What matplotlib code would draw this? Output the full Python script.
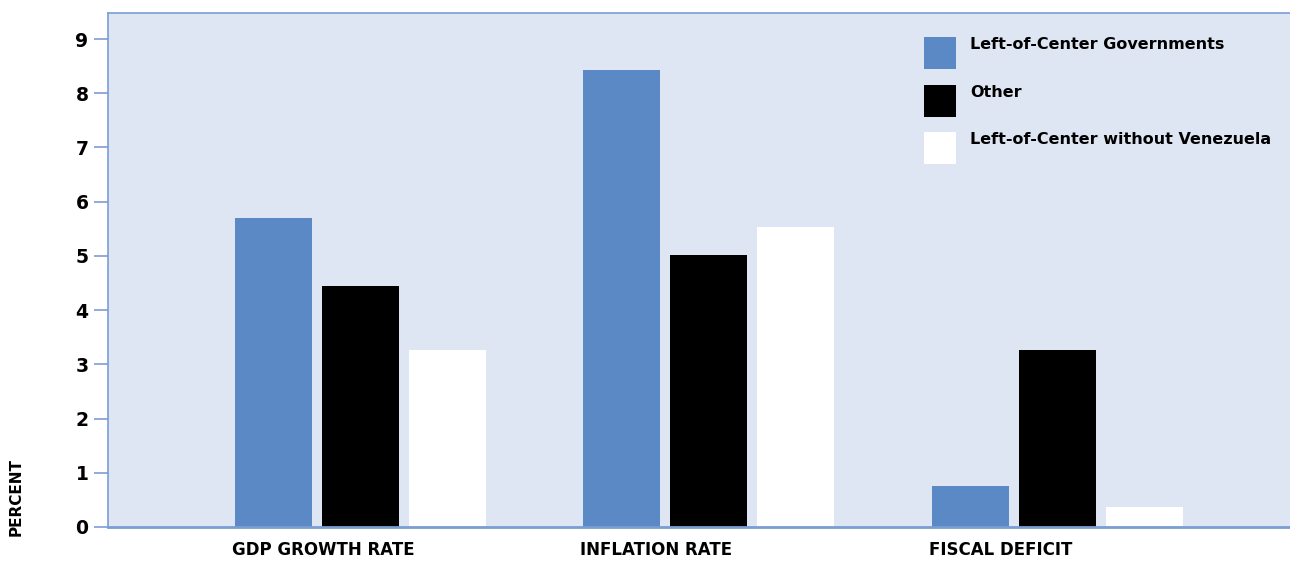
import matplotlib
matplotlib.use("Agg")
import matplotlib.pyplot as plt
import numpy as np
from matplotlib.patches import Rectangle

categories = ["GDP GROWTH RATE", "INFLATION RATE", "FISCAL DEFICIT"]
series_names = ["Left-of-Center Governments", "Other", "Left-of-Center without Venezuela"]
left_of_center = [5.7, 8.43, 0.76]
other = [4.44, 5.02, 3.26]
left_no_venezuela = [3.26, 5.53, 0.37]
yticks = [0, 1, 2, 3, 4, 5, 6, 7, 8, 9]

blue = "#5b89c6"
edge = "#7a9dd4"
bg = "#dfe6f3"

plt.rcParams['font.family'] = ['DejaVu Sans']

W, H = 1290, 571
AX_L, AX_R, AX_T, AX_B = 108, 1290, 13, 527
fig = plt.figure(figsize=(W/100, H/100), dpi=100)
ax = fig.add_axes([AX_L/W, 1-AX_B/H, (AX_R-AX_L)/W, (AX_B-AX_T)/H])
ax.set_facecolor(bg)

def ax_frac(px, py):
    return (px-AX_L)/(AX_R-AX_L), (AX_B-py)/(AX_B-AX_T)

x = np.arange(len(categories))
w = 0.2208
step = 0.2495
colors = [blue, "black", "white"]
series = [left_of_center, other, left_no_venezuela]
for i, (vals, c, name) in enumerate(zip(series, colors, series_names)):
    ax.bar(x + (i - 1) * step, vals, width=w, color=c, label=name, zorder=2)

ax.set_xlim(-0.7227, 2.667)
ax.set_ylim(0, 9.48)
ax.set_yticks(yticks)
ax.set_yticklabels([str(t) for t in yticks], fontsize=13.5, fontweight='bold')
ax.tick_params(axis='y', length=10, width=1.2, color=edge, pad=4)
ax.set_xticks([])

for s in ["left", "top", "bottom"]:
    ax.spines[s].set_color(edge)
    ax.spines[s].set_linewidth(1.2)
ax.spines["right"].set_visible(False)
ax.spines["bottom"].set_linewidth(2)

for xi, cat in zip(x, categories):
    ax.text(xi - step - w/2 - 0.008, -0.26, cat, ha='left', va='top', fontsize=12,
            fontweight='bold', transform=ax.transData, clip_on=False)

fig.text(16/W, 1-497/H, "PERCENT", rotation=90, ha='center', va='center',
         fontsize=11, fontweight='bold')

# legend drawn as square swatches with labels aligned to their tops
sw_tops = [37, 85, 132]
for c, name, top in zip(colors, series_names, sw_tops):
    x0, y0 = ax_frac(924, top + 32)
    x1, y1 = ax_frac(956, top)
    ax.add_patch(Rectangle((x0, y0), x1-x0, y1-y0, transform=ax.transAxes,
                           facecolor=c, edgecolor='none', zorder=3))
    tx, ty = ax_frac(970, top)
    ax.text(tx, ty, name, transform=ax.transAxes, ha='left', va='top',
            fontsize=11.5, fontweight='bold', zorder=3)

fig.savefig("out.png", dpi=100)
